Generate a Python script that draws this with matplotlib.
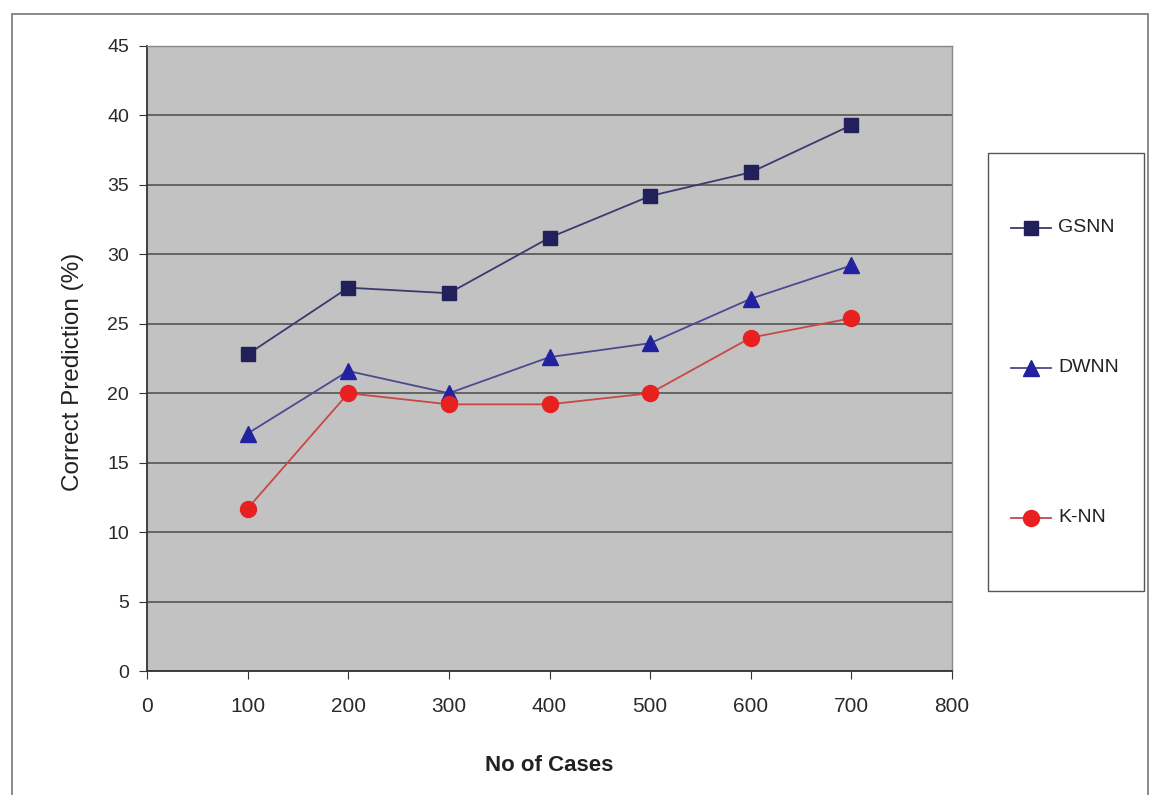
import matplotlib
matplotlib.use('Agg')
import matplotlib.pyplot as plt
from matplotlib.patches import Rectangle

plt.rcParams['font.family'] = ['Liberation Sans', 'DejaVu Sans']

cases = [100, 200, 300, 400, 500, 600, 700]
gsnn = [22.8, 27.6, 27.2, 31.2, 34.2, 35.9, 39.3]
dwnn = [17.1, 21.6, 20.0, 22.6, 23.6, 26.8, 29.2]
knn = [11.7, 20.0, 19.2, 19.2, 20.0, 24.0, 25.4]
x_ticks = [0, 100, 200, 300, 400, 500, 600, 700, 800]
y_ticks = [0, 5, 10, 15, 20, 25, 30, 35, 40, 45]

W, H = 1155, 795
fig = plt.figure(figsize=(W / 100, H / 100), dpi=100)

# outer frame of the chart
fig.patches.append(Rectangle((12 / W, -0.05), (1148 - 12) / W, 1 - 14 / H + 0.05,
                             transform=fig.transFigure, fill=False,
                             edgecolor='#777777', linewidth=1.2))

ax = fig.add_axes([147 / W, 1 - 671 / H, (952 - 147) / W, (671 - 46) / H])
ax.set_facecolor('#c2c2c2')
ax.set_xlim(0, 800)
ax.set_ylim(0, 45)
ax.set_xticks(x_ticks)
ax.set_yticks(y_ticks)
ax.tick_params(axis='x', labelsize=15, direction='out', length=6, color='#333333',
               pad=13, labelcolor='#2a2a2a')
ax.tick_params(axis='y', labelsize=14, direction='out', length=6, color='#333333',
               pad=7, labelcolor='#2a2a2a')
ax.yaxis.grid(True, color='#4a4a4a', linewidth=1.1)
ax.set_axisbelow(True)
for side in ['left', 'bottom']:
    ax.spines[side].set_color('#333333')
    ax.spines[side].set_linewidth(1.3)
for side in ['top', 'right']:
    ax.spines[side].set_color('#888888')
    ax.spines[side].set_linewidth(1.0)

l1, = ax.plot(cases, gsnn, color='#3a3a70', linewidth=1.3, marker='s', markersize=10.5,
              markerfacecolor='#22205a', markeredgecolor='#22205a', label='GSNN')
l2, = ax.plot(cases, dwnn, color='#4a4a90', linewidth=1.3, marker='^', markersize=12,
              markerfacecolor='#2222a0', markeredgecolor='#2222a0', label='DWNN')
l3, = ax.plot(cases, knn, color='#c84848', linewidth=1.3, marker='o', markersize=11.5,
              markerfacecolor='#e82020', markeredgecolor='#e82020', label='K-NN')

ax.set_xlabel('No of Cases', fontsize=16, fontweight='bold', labelpad=28, color='#222222')
ax.set_ylabel('Correct Prediction (%)', fontsize=17.5, color='#222222')
ax.yaxis.set_label_coords(-0.078, 0.478)

# legend box
fig.patches.append(Rectangle((988 / W, 1 - 591 / H), (1144 - 988) / W, (591 - 153) / H,
                             transform=fig.transFigure, facecolor='white',
                             edgecolor='#555555', linewidth=1.0))
leg_y = [228, 368, 518]
for line, yy in zip([l1, l2, l3], leg_y):
    fy = 1 - yy / H
    fig.add_artist(plt.Line2D([1011 / W, 1051 / W], [fy, fy], transform=fig.transFigure,
                              color=line.get_color(), linewidth=1.3))
    fig.add_artist(plt.Line2D([1031 / W], [fy], transform=fig.transFigure,
                              marker=line.get_marker(), markersize=line.get_markersize(),
                              markerfacecolor=line.get_markerfacecolor(),
                              markeredgecolor=line.get_markeredgecolor(), linestyle='none'))
    fig.text(1058 / W, fy, line.get_label(), fontsize=14, va='center', ha='left',
             color='#222222')

fig.savefig('out.png', dpi=100)
